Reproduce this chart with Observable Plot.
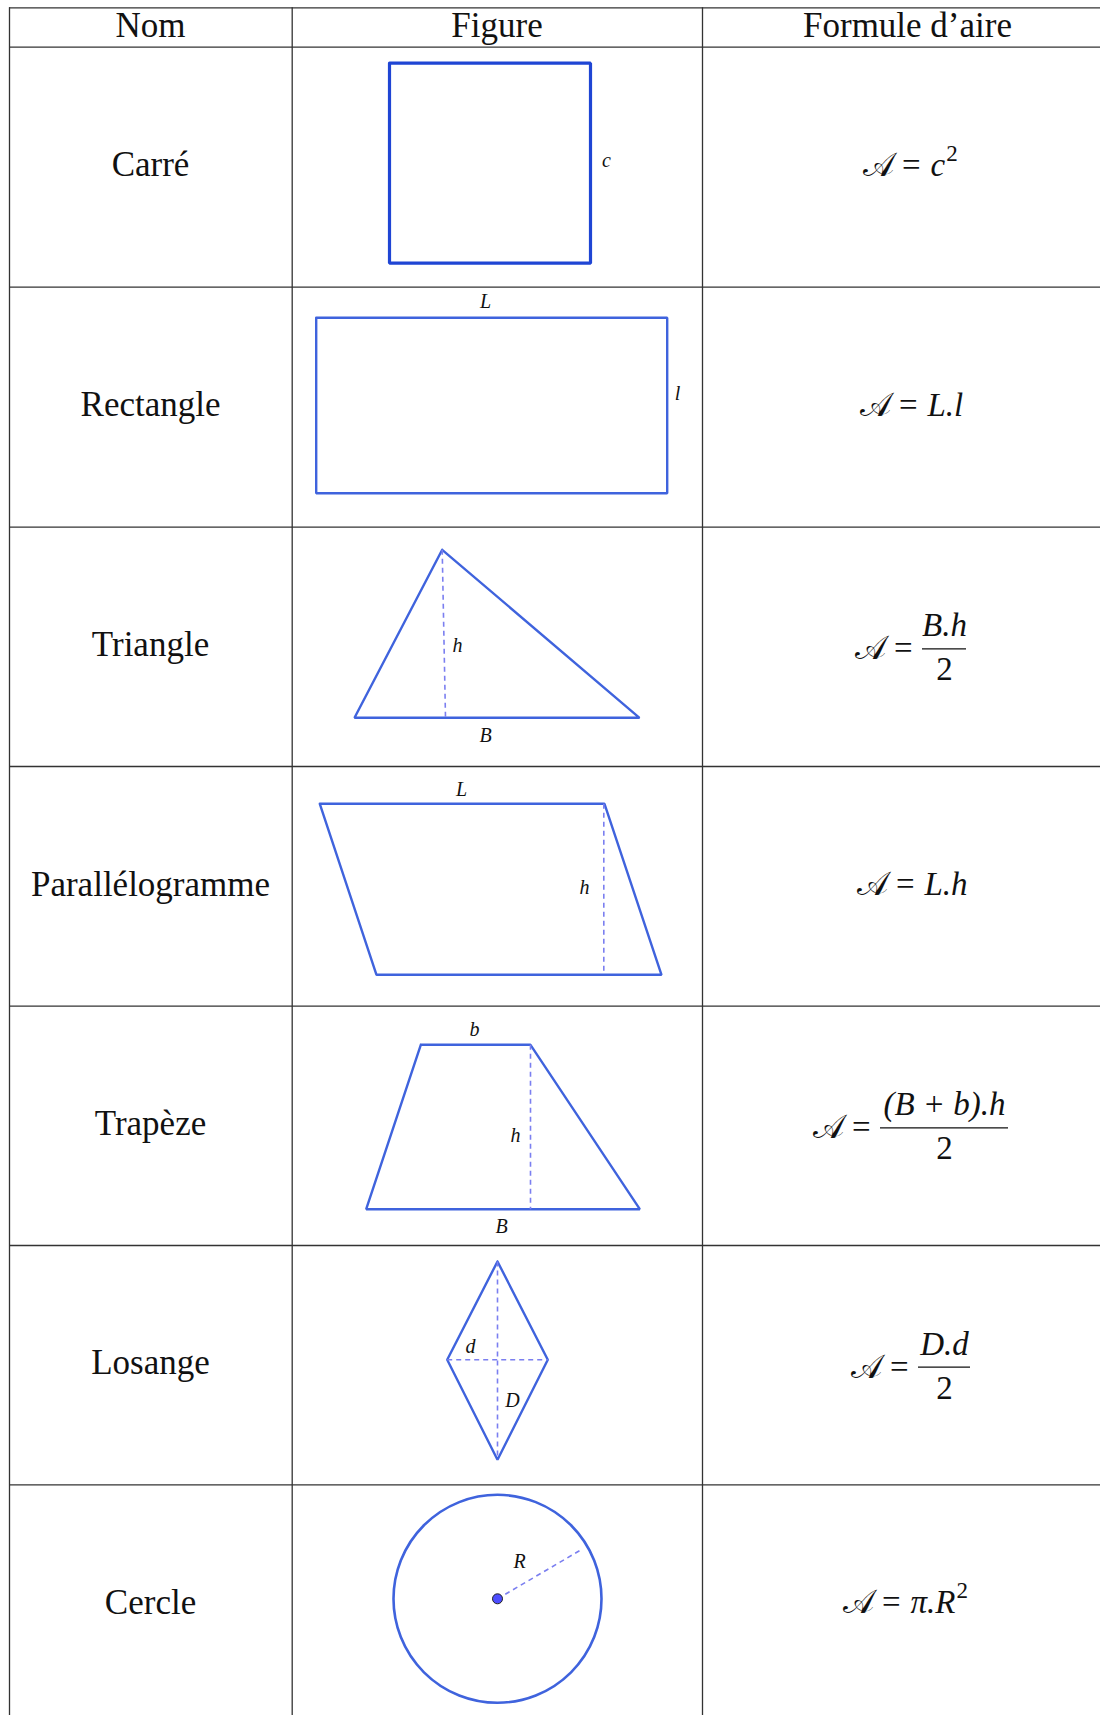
<!DOCTYPE html>
<html>
<head>
<meta charset="utf-8">
<script src="https://cdn.jsdelivr.net/npm/d3@7"></script>
<script src="https://cdn.jsdelivr.net/npm/@observablehq/plot@0.6"></script>
<style>
  html, body { margin: 0; padding: 0; background: #fff; }
  svg { display: block; }
</style>
</head>
<body>
<div id="chart"></div>
<script>
// ---- table structure ----
const headers = ["Nom", "Figure", "Formule d’aire"];
const names = ["Carré", "Rectangle", "Triangle", "Parallélogramme", "Trapèze", "Losange", "Cercle"];
const colEdges = [9, 291.7, 702];
const colCenters = [150, 496.5, 907];
const rowEdges = [7.3, 46.7, 286.7, 526.7, 766, 1005.7, 1245, 1484.3, 1724];

// ---- formulas ----
const simpleFormulas = [
  {row: 0, rhs: "c", sup: "2", rhsX: 930},
  {row: 1, rhs: "L.l", sup: "", rhsX: 927},
  {row: 3, rhs: "L.h", sup: "", rhsX: 924},
  {row: 6, rhs: "π.R", sup: "2", rhsX: 910}
];
const fractionFormulas = [
  {row: 2, num: "B.h", den: "2", x1: 922, x2: 966},
  {row: 4, num: "(B + b).h", den: "2", x1: 880, x2: 1008},
  {row: 5, num: "D.d", den: "2", x1: 918, x2: 970}
];

// ---- figures (vertices) ----
const solidShapes = [
  {id: "carre", pts: [[389, 62.7], [590, 62.7], [590, 262.7], [389, 262.7], [389, 62.7]]},
  {id: "rect", pts: [[315.7, 317.3], [666.7, 317.3], [666.7, 492.7], [315.7, 492.7], [315.7, 317.3]]},
  {id: "tri", pts: [[441.7, 549.3], [639, 717.3], [354, 717.3], [441.7, 549.3]]},
  {id: "para", pts: [[319.3, 803.3], [604, 803.3], [661, 974.3], [376, 974.3], [319.3, 803.3]]},
  {id: "trap", pts: [[420.3, 1044.3], [530, 1044.3], [639.3, 1208.7], [365.7, 1208.7], [420.3, 1044.3]]},
  {id: "los", pts: [[497, 1261], [547.3, 1359.3], [497, 1459.3], [446.7, 1359.3], [497, 1261]]}
];
const dashedSegments = [
  {x1: 441.7, y1: 549.3, x2: 445, y2: 717.3},
  {x1: 603.3, y1: 803.3, x2: 603.3, y2: 974.3},
  {x1: 530, y1: 1044.3, x2: 530, y2: 1208.7},
  {x1: 497, y1: 1261, x2: 497, y2: 1459.3},
  {x1: 446.7, y1: 1359.3, x2: 547.3, y2: 1359.3},
  {x1: 497, y1: 1598.3, x2: 582.3, y2: 1548.3}
];
const circleCenters = [{x: 497, y: 1598.3}];
const circleRadius = 104;
const figureLabels = [
  {t: "c", x: 606, y: 160},
  {t: "L", x: 485, y: 301},
  {t: "l", x: 677, y: 393},
  {t: "h", x: 457, y: 645},
  {t: "B", x: 485, y: 735},
  {t: "L", x: 461, y: 789},
  {t: "h", x: 584, y: 887},
  {t: "b", x: 474, y: 1029},
  {t: "h", x: 515, y: 1135},
  {t: "B", x: 501, y: 1226},
  {t: "d", x: 470, y: 1346},
  {t: "D", x: 512, y: 1400},
  {t: "R", x: 519, y: 1561}
];

// ---- derived tables ----
const serif = "Liberation Serif, DejaVu Serif, serif";
const fs = 33;
const ctx = document.createElement("canvas").getContext("2d");
ctx.font = `italic ${fs}px "Liberation Serif"`;
const textW = s => ctx.measureText(s).width;

const rowCenter = i => (rowEdges[i + 1] + rowEdges[i + 2]) / 2 - 2;
const headerY = (rowEdges[0] + rowEdges[1]) / 2 - 2;
const headerData = headers.map((h, i) => ({t: h, x: colCenters[i], y: headerY}));
const nameData = names.map((n, i) => ({t: n, x: colCenters[0], y: rowCenter(i)}));
const solidPts = solidShapes.flatMap(s => s.pts.map(([x, y]) => ({id: s.id, x, y})));
const lhsData = [
  ...simpleFormulas.map(f => ({x: f.rhsX - 10, y: rowCenter(f.row)})),
  ...fractionFormulas.map(f => ({x: f.x1 - 10, y: rowCenter(f.row) + 4}))
];
const rhsData = simpleFormulas.map(f => ({t: f.rhs, x: f.rhsX, y: rowCenter(f.row)}));
const supData = simpleFormulas.filter(f => f.sup).map(f => ({t: f.sup, x: f.rhsX + textW(f.rhs) + 1, y: rowCenter(f.row) - 12}));
const fracData = fractionFormulas.map(f => ({...f, bar: rowCenter(f.row) + 4, xc: (f.x1 + f.x2) / 2}));

const blue = "#3f63dd";
const dashBlue = "#7b7ff0";

const chart = Plot.plot({
  width: 1100,
  height: 1715,
  margin: 0,
  x: {domain: [0, 1100], range: [0, 1100], axis: null},
  y: {domain: [0, 1715], range: [0, 1715], axis: null},
  style: {background: "#fff", fontFamily: serif},
  marks: [
    // grid
    Plot.ruleY(rowEdges, {x1: colEdges[0], x2: 1100, stroke: "#333", strokeWidth: 1.3}),
    Plot.ruleX(colEdges, {y1: rowEdges[0], y2: rowEdges[rowEdges.length - 1], stroke: "#333", strokeWidth: 1.3}),
    // headers & names
    Plot.text(headerData, {x: "x", y: "y", text: "t", fontSize: 35, fill: "#111", lineAnchor: "middle"}),
    Plot.text(nameData, {x: "x", y: "y", text: "t", fontSize: 35, fill: "#111", lineAnchor: "middle"}),
    // figures
    Plot.line(solidPts, {x: "x", y: "y", z: "id", stroke: d => d.id === "carre" ? "#1f45d4" : blue,
      strokeWidth: d => d.id === "carre" ? 3.2 : 2.4, strokeLinejoin: "miter", curve: "linear"}),
    Plot.dot(circleCenters, {x: "x", y: "y", r: circleRadius, stroke: blue, strokeWidth: 2.6, fill: "none"}),
    Plot.link(dashedSegments, {x1: "x1", y1: "y1", x2: "x2", y2: "y2", stroke: dashBlue, strokeWidth: 1.6, strokeDasharray: "5,4"}),
    Plot.dot(circleCenters, {x: "x", y: "y", r: 5, fill: "#4d4dff", stroke: "#222", strokeWidth: 1}),
    Plot.text(figureLabels, {x: "x", y: "y", text: "t", fontSize: 20, fontStyle: "italic", fill: "#111", lineAnchor: "middle"}),
    // formulas
    Plot.text(lhsData, {x: "x", y: "y", text: () => "𝒜 =", textAnchor: "end", fontSize: fs, fill: "#111", lineAnchor: "middle"}),
    Plot.text(rhsData, {x: "x", y: "y", text: "t", textAnchor: "start", fontSize: fs, fontStyle: "italic", fill: "#111", lineAnchor: "middle"}),
    Plot.text(supData, {x: "x", y: "y", text: "t", textAnchor: "start", fontSize: 23, fill: "#111", lineAnchor: "middle"}),
    Plot.ruleY(fracData, {y: "bar", x1: "x1", x2: "x2", stroke: "#111", strokeWidth: 1.3}),
    Plot.text(fracData, {x: "xc", y: d => d.bar - 23, text: "num", fontSize: fs, fontStyle: "italic", fill: "#111", lineAnchor: "middle"}),
    Plot.text(fracData, {x: "xc", y: d => d.bar + 21, text: "den", fontSize: fs, fill: "#111", lineAnchor: "middle"})
  ]
});
document.getElementById("chart").appendChild(chart);
</script>
</body>
</html>
